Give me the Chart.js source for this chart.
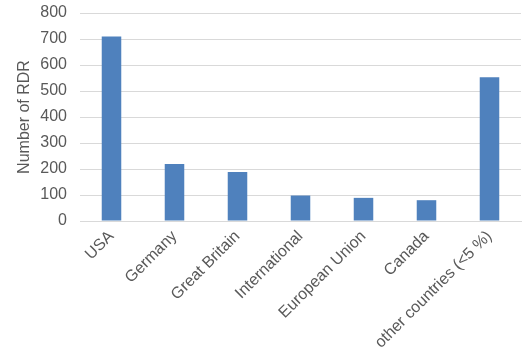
<!DOCTYPE html>
<html>
<head>
<meta charset="utf-8">
<script src="https://cdn.jsdelivr.net/npm/chart.js@4"></script>
<style>
  html, body { margin: 0; padding: 0; background: #fff; }
  #wrap { width: 532px; height: 362px; }
</style>
</head>
<body>
<div id="wrap"><canvas id="rdrChart"></canvas></div>
<script>
var countries = ["USA", "Germany", "Great Britain", "International", "European Union", "Canada", "other countries (<5 %)"];
var rdrCounts = [710, 219, 188, 98, 89, 80, 553];
var yTicks = [0, 100, 200, 300, 400, 500, 600, 700, 800];

var ctx = document.getElementById('rdrChart').getContext('2d');
var chart = new Chart(ctx, {
  type: 'bar',
  data: {
    labels: countries,
    datasets: [{
      label: 'Number of RDR',
      data: rdrCounts,
      backgroundColor: '#4f81bd',
      borderWidth: 0,
      categoryPercentage: 1,
      barPercentage: 0.31
    }]
  },
  options: {
    responsive: true,
    maintainAspectRatio: false,
    animation: false,
    layout: { padding: { top: 0, right: 11, left: 0, bottom: 0 } },
    plugins: {
      legend: { display: false },
      tooltip: { enabled: false }
    },
    scales: {
      x: {
        grid: { display: false, drawTicks: false },
        border: { color: '#d9d9d9', width: 1 },
        ticks: {
          color: '#595959',
          font: { family: 'Liberation Sans', size: 16 },
          minRotation: 45,
          maxRotation: 45,
          padding: 6
        },
        afterFit: function (scale) { scale.height = 141; }
      },
      y: {
        min: 0,
        max: 800,
        afterBuildTicks: function (scale) {
          scale.ticks = yTicks.map(function (v) { return { value: v }; });
        },
        grid: { color: '#d9d9d9', lineWidth: 1, drawTicks: false },
        border: { display: false },
        ticks: {
          color: '#595959',
          font: { family: 'Liberation Sans', size: 16 },
          padding: 13
        },
        title: {
          display: true,
          text: 'Number of RDR',
          color: '#595959',
          font: { family: 'Liberation Sans', size: 16 },
          padding: { top: 15, bottom: 0 }
        },
        afterFit: function (scale) {
          scale.width = 80;
          scale.paddingTop = 13;
        }
      }
    }
  }
});
</script>
</body>
</html>
